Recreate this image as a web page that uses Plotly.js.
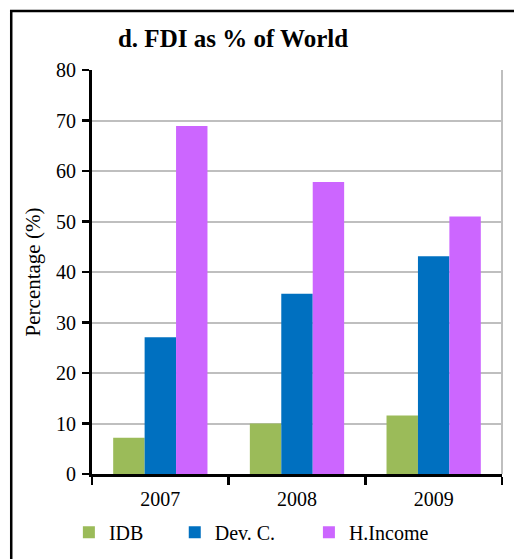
<!DOCTYPE html>
<html><head><meta charset="utf-8">
<script src="https://cdn.plot.ly/plotly-3.0.1.min.js"></script>
<style>html,body{margin:0;padding:0;background:#fff}#chart{width:514px;height:559px}</style>
</head><body><div id="chart"></div>
<script>
const years = ["2007", "2008", "2009"];
const idb = [7.2, 10.0, 11.6];
const devC = [27.1, 35.7, 43.1];
const hIncome = [68.9, 57.8, 51.0];
const seriesNames = ["IDB", "Dev. C.", "H.Income"];
const colors = ["#9BBB59", "#0070C0", "#CC66FF"];

const font = "Liberation Serif";
const traces = [idb, devC, hIncome].map((v, i) => ({
  type: "bar", x: years, y: v, name: seriesNames[i],
  marker: {color: colors[i]},
  legend: i === 0 ? "legend" : "legend" + (i + 1),
  hoverinfo: "skip"
}));
const legendBase = {orientation: "h", yanchor: "middle", xanchor: "left",
  xref: "container", yref: "container", y: 0.048,
  font: {family: font, size: 20, color: "#000"}, bgcolor: "rgba(0,0,0,0)",
  itemwidth: 30, tracegroupgap: 0};
const layout = {
  width: 514, height: 559,
  font: {family: font, color: "#000"},
  margin: {l: 92, r: 12, t: 70, b: 85, autoexpand: false},
  paper_bgcolor: "#fff", plot_bgcolor: "#fff",
  barmode: "group", bargap: 0.31, bargroupgap: 0,
  title: {text: "<b>d. FDI as % of World</b>", font: {family: font, size: 25, color: "#000"},
    x: 0.344, xref: "paper", xanchor: "center", y: 0.932, yref: "container", yanchor: "middle"},
  xaxis: {type: "category", tickson: "boundaries", ticks: "outside", ticklen: 8, tickwidth: 2.5,
    tickcolor: "#000", showline: true, linecolor: "#000", linewidth: 3, showgrid: false,
    ticklabelstandoff: 5,
    tickfont: {family: font, size: 20, color: "#000"}, fixedrange: true},
  yaxis: {range: [0, 80], dtick: 10, ticks: "outside", ticklen: 7, tickwidth: 2.5, tickcolor: "#000",
    showline: true, linecolor: "#000", linewidth: 3, showgrid: true, gridcolor: "#BFBFBF", gridwidth: 2,
    zeroline: false, tickfont: {family: font, size: 20, color: "#000"}, ticklabelstandoff: 2,
    title: {text: "Percentage (%)", font: {family: font, size: 21, color: "#000"}, standoff: 10},
    fixedrange: true},
  legend: Object.assign({}, legendBase, {x: 0.134}),
  legend2: Object.assign({}, legendBase, {x: 0.340}),
  legend3: Object.assign({}, legendBase, {x: 0.601}),
  showlegend: true,
  shapes: [
    {type: "line", xref: "paper", yref: "paper", x0: 1, x1: 1, y0: 0, y1: 1,
     line: {color: "#BFBFBF", width: 2}},
    {type: "rect", xref: "paper", yref: "paper", x0: -0.197, x1: 1.5, y0: -0.5, y1: 1.146,
     line: {color: "#000", width: 2.5}, layer: "above"}
  ]
};
Plotly.newPlot("chart", traces, layout, {staticPlot: true});
</script></body></html>
